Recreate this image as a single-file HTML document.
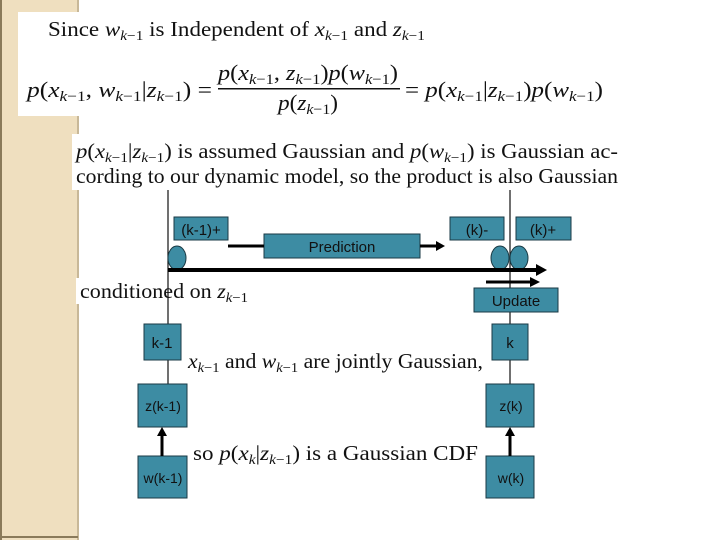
<!DOCTYPE html>
<html><head><meta charset="utf-8"><style>
html,body{margin:0;padding:0;background:#fff}
svg{display:block}
.s{font-family:"Liberation Serif",serif;fill:#111}
.i{font-style:italic}
.b{font-family:"Liberation Sans",sans-serif;fill:#111}
</style></head><body>
<svg width="720" height="540" viewBox="0 0 720 540" xmlns="http://www.w3.org/2000/svg">
<rect x="0" y="0" width="78" height="540" fill="#efdfbf"/>
<rect x="0" y="0" width="2" height="540" fill="#8a7a5a"/>
<rect x="77" y="0" width="2" height="540" fill="#c8b898"/>
<rect x="0" y="536" width="78" height="2" fill="#8a7a5a"/>
<rect x="18" y="12" width="604" height="104" fill="#fff"/>
<rect x="72" y="134" width="550" height="56" fill="#fff"/>
<rect x="76" y="278" width="180" height="26" fill="#fff"/>

<text class="s" x="48" y="36" font-size="21" textLength="377" lengthAdjust="spacingAndGlyphs">Since <tspan class="i">w</tspan><tspan font-size="14" dy="4" class="i">k</tspan><tspan font-size="14">−1</tspan><tspan dy="-4"> is Independent of </tspan><tspan class="i">x</tspan><tspan font-size="14" dy="4" class="i">k</tspan><tspan font-size="14">−1</tspan><tspan dy="-4"> and </tspan><tspan class="i">z</tspan><tspan font-size="14" dy="4" class="i">k</tspan><tspan font-size="14">−1</tspan></text>

<text class="s" x="27" y="97" font-size="22" textLength="185" lengthAdjust="spacingAndGlyphs"><tspan class="i">p</tspan>(<tspan class="i">x</tspan><tspan font-size="15" dy="4" class="i">k</tspan><tspan font-size="15">−1</tspan><tspan dy="-4">, </tspan><tspan class="i">w</tspan><tspan font-size="15" dy="4" class="i">k</tspan><tspan font-size="15">−1</tspan><tspan dy="-4">|</tspan><tspan class="i">z</tspan><tspan font-size="15" dy="4" class="i">k</tspan><tspan font-size="15">−1</tspan><tspan dy="-4">) =</tspan></text>
<text class="s" x="218" y="80" font-size="22" textLength="180" lengthAdjust="spacingAndGlyphs"><tspan class="i">p</tspan>(<tspan class="i">x</tspan><tspan font-size="15" dy="4" class="i">k</tspan><tspan font-size="15">−1</tspan><tspan dy="-4">, </tspan><tspan class="i">z</tspan><tspan font-size="15" dy="4" class="i">k</tspan><tspan font-size="15">−1</tspan><tspan dy="-4">)</tspan><tspan class="i">p</tspan>(<tspan class="i">w</tspan><tspan font-size="15" dy="4" class="i">k</tspan><tspan font-size="15">−1</tspan><tspan dy="-4">)</tspan></text>
<rect x="218" y="88" width="182" height="1.5" fill="#111"/>
<text class="s" x="278" y="110" font-size="22" textLength="60" lengthAdjust="spacingAndGlyphs"><tspan class="i">p</tspan>(<tspan class="i">z</tspan><tspan font-size="15" dy="4" class="i">k</tspan><tspan font-size="15">−1</tspan><tspan dy="-4">)</tspan></text>
<text class="s" x="405" y="97" font-size="22" textLength="198" lengthAdjust="spacingAndGlyphs">= <tspan class="i">p</tspan>(<tspan class="i">x</tspan><tspan font-size="15" dy="4" class="i">k</tspan><tspan font-size="15">−1</tspan><tspan dy="-4">|</tspan><tspan class="i">z</tspan><tspan font-size="15" dy="4" class="i">k</tspan><tspan font-size="15">−1</tspan><tspan dy="-4">)</tspan><tspan class="i">p</tspan>(<tspan class="i">w</tspan><tspan font-size="15" dy="4" class="i">k</tspan><tspan font-size="15">−1</tspan><tspan dy="-4">)</tspan></text>

<text class="s" x="76" y="158" font-size="21" textLength="542" lengthAdjust="spacingAndGlyphs"><tspan class="i">p</tspan>(<tspan class="i">x</tspan><tspan font-size="14" dy="4" class="i">k</tspan><tspan font-size="14">−1</tspan><tspan dy="-4">|</tspan><tspan class="i">z</tspan><tspan font-size="14" dy="4" class="i">k</tspan><tspan font-size="14">−1</tspan><tspan dy="-4">) is assumed Gaussian and </tspan><tspan class="i">p</tspan>(<tspan class="i">w</tspan><tspan font-size="14" dy="4" class="i">k</tspan><tspan font-size="14">−1</tspan><tspan dy="-4">) is Gaussian ac-</tspan></text>
<text class="s" x="76" y="183" font-size="21" textLength="542" lengthAdjust="spacingAndGlyphs">cording to our dynamic model, so the product is also Gaussian</text>

<text class="s" x="80" y="298" font-size="21" textLength="168" lengthAdjust="spacingAndGlyphs">conditioned on <tspan class="i">z</tspan><tspan font-size="14" dy="4" class="i">k</tspan><tspan font-size="14">−1</tspan></text>
<text class="s" x="188" y="368" font-size="21" textLength="295" lengthAdjust="spacingAndGlyphs"><tspan class="i">x</tspan><tspan font-size="14" dy="4" class="i">k</tspan><tspan font-size="14">−1</tspan><tspan dy="-4"> and </tspan><tspan class="i">w</tspan><tspan font-size="14" dy="4" class="i">k</tspan><tspan font-size="14">−1</tspan><tspan dy="-4"> are jointly Gaussian,</tspan></text>
<text class="s" x="193" y="460" font-size="21" textLength="285" lengthAdjust="spacingAndGlyphs">so <tspan class="i">p</tspan>(<tspan class="i">x</tspan><tspan font-size="14" dy="4" class="i">k</tspan><tspan dy="-4">|</tspan><tspan class="i">z</tspan><tspan font-size="14" dy="4" class="i">k</tspan><tspan font-size="14">−1</tspan><tspan dy="-4">) is a Gaussian CDF</tspan></text>

<g stroke="#111" stroke-width="1.2">
<line x1="168" y1="190" x2="168" y2="384"/>
<line x1="510" y1="190" x2="510" y2="384"/>
</g>
<g fill="#3d8ca3" stroke="#1a3a44" stroke-width="1">
<rect x="174" y="217" width="54" height="23"/>
<rect x="264" y="234" width="156" height="24"/>
<rect x="450" y="217" width="54" height="23"/>
<rect x="516" y="217" width="55" height="23"/>
<rect x="474" y="288" width="84" height="24"/>
<rect x="144" y="324" width="37" height="36"/>
<rect x="492" y="324" width="36" height="36"/>
<rect x="138" y="384" width="49" height="43"/>
<rect x="138" y="456" width="49" height="42"/>
<rect x="486" y="384" width="48" height="43"/>
<rect x="486" y="456" width="48" height="42"/>
<ellipse cx="177" cy="258" rx="9" ry="12"/>
<ellipse cx="500" cy="258" rx="9" ry="12"/>
<ellipse cx="519" cy="258" rx="9" ry="12"/>
</g>
<g stroke="#000" fill="none">
<line x1="228" y1="246" x2="264" y2="246" stroke-width="3"/>
<line x1="420" y1="246" x2="438" y2="246" stroke-width="3"/>
<line x1="168" y1="270" x2="538" y2="270" stroke-width="4"/>
<line x1="486" y1="282" x2="532" y2="282" stroke-width="3"/>
<line x1="162" y1="456" x2="162" y2="434" stroke-width="3"/>
<line x1="510" y1="456" x2="510" y2="434" stroke-width="3"/>
</g>
<g fill="#000">
<polygon points="436,241 445,246 436,251"/>
<polygon points="536,264 547,270 536,276"/>
<polygon points="530,277 540,282 530,287"/>
<polygon points="157,436 162,427 167,436"/>
<polygon points="505,436 510,427 515,436"/>
</g>
<g class="b" font-size="15" text-anchor="middle">
<text x="201" y="235">(k-1)+</text>
<text x="342" y="252">Prediction</text>
<text x="477" y="235">(k)-</text>
<text x="543" y="235">(k)+</text>
<text x="516" y="306">Update</text>
<text x="162" y="348">k-1</text>
<text x="510" y="348">k</text>
<text x="163" y="411" font-size="14">z(k-1)</text>
<text x="163" y="483" font-size="14">w(k-1)</text>
<text x="511" y="411" font-size="14">z(k)</text>
<text x="511" y="483" font-size="14">w(k)</text>
</g>
</svg>
</body></html>
